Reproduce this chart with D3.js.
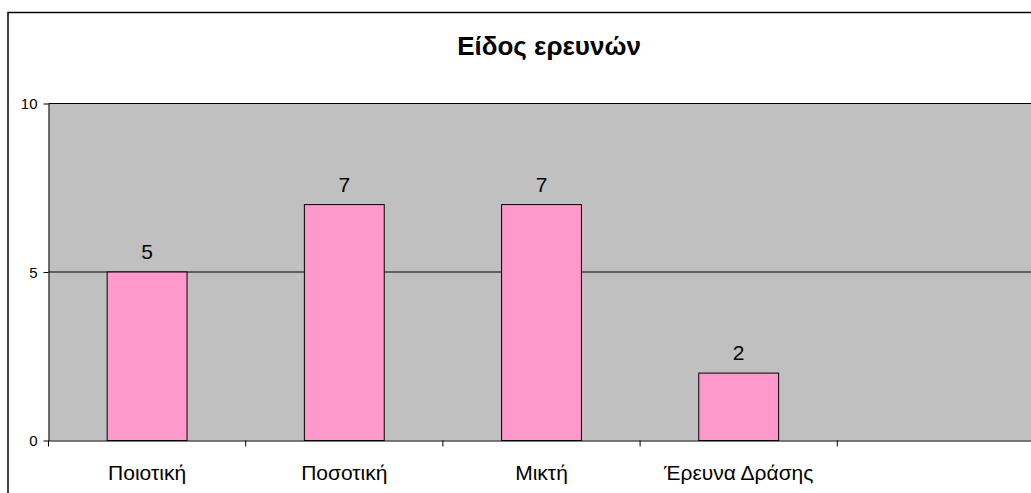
<!DOCTYPE html>
<html><head><meta charset="utf-8">
<script src="https://cdn.jsdelivr.net/npm/d3@7"></script>
<style>body{margin:0;background:#fff}svg{display:block;font-family:Arial,"Liberation Sans",sans-serif}</style>
</head><body><svg id="c" width="1031" height="493"></svg>
<script>
const categories = ["Ποιοτική","Ποσοτική","Μικτή","Έρευνα Δράσης",""];
const values = [5,7,7,2,null];
const yTicks = [0,5,10];
const title = "Είδος ερευνών";

const svg = d3.select("#c");
const W=1031,H=493;
const m={left:48.5,top:103.5,right:-3.5,bottom:52.5};
svg.append("rect").attr("x",8).attr("y",12.5).attr("width",1040).attr("height",500)
  .attr("fill","#fff").attr("stroke","#000").attr("stroke-width",1.5);
const x=d3.scaleBand().domain(d3.range(categories.length)).range([m.left,W-m.right]).paddingInner(0).paddingOuter(0);
const y=d3.scaleLinear().domain([0,10]).range([H-m.bottom,m.top]);
svg.append("rect").attr("x",m.left).attr("y",m.top).attr("width",W-m.right-m.left).attr("height",y(0)-m.top).attr("fill","#C0C0C0");
svg.append("g").selectAll("line").data(yTicks.filter(d=>d>0)).join("line")
  .attr("x1",m.left).attr("x2",W).attr("y1",d=>y(d)).attr("y2",d=>y(d)).attr("stroke","#000").attr("stroke-width",1);
const bw=x.bandwidth()*0.405;
svg.append("g").selectAll("rect").data(values.map((v,i)=>({v,i})).filter(d=>d.v!=null)).join("rect")
  .attr("x",d=>x(d.i)+(x.bandwidth()-bw)/2).attr("width",bw)
  .attr("y",d=>y(d.v)).attr("height",d=>y(0)-y(d.v))
  .attr("fill","#FF99CC").attr("stroke","#000").attr("stroke-width",1);
svg.append("g").selectAll("text").data(values.map((v,i)=>({v,i})).filter(d=>d.v!=null)).join("text")
  .attr("x",d=>x(d.i)+x.bandwidth()/2).attr("y",d=>y(d.v)-13).attr("text-anchor","middle")
  .attr("font-size",21).text(d=>d.v);
const ya=svg.append("g").attr("transform",`translate(${m.left},0)`).call(d3.axisLeft(y).tickValues(yTicks).tickSize(5).tickSizeOuter(0));
ya.select(".domain").attr("stroke","#000");
ya.selectAll("text").attr("font-size",15).attr("font-family","Arial,'Liberation Sans',sans-serif").attr("fill","#000").attr("dx",-3).attr("dy","0.36em");
const xa=svg.append("g").attr("transform",`translate(0,${y(0)})`).call(d3.axisBottom(x).tickValues([]).tickSizeOuter(0));
xa.select(".domain").attr("stroke","#000");
svg.append("g").selectAll("line").data(d3.range(categories.length+1)).join("line")
  .attr("x1",d=>m.left+d*x.step()).attr("x2",d=>m.left+d*x.step())
  .attr("y1",y(0)).attr("y2",y(0)+6).attr("stroke","#000");
svg.append("g").selectAll("text").data(categories).join("text")
  .attr("x",(d,i)=>x(i)+x.bandwidth()/2).attr("y",y(0)+39.5).attr("text-anchor","middle")
  .attr("font-size",21).text(d=>d);
svg.append("text").attr("x",549).attr("y",55).attr("text-anchor","middle").attr("font-size",26).attr("font-weight","bold").text(title);
</script></body></html>
